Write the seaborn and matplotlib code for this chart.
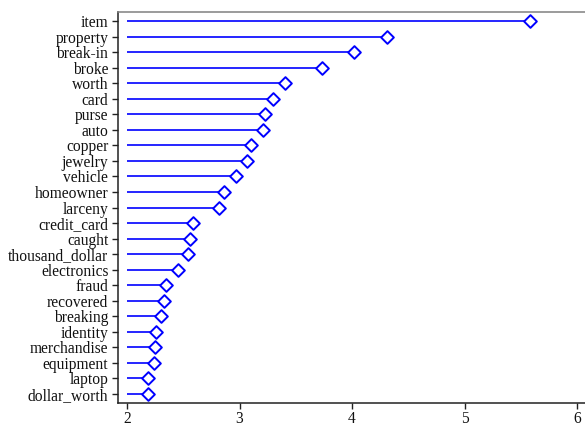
import numpy as np
import pandas as pd
import matplotlib
matplotlib.use("Agg")
import matplotlib.pyplot as plt
import seaborn as sns

terms = ["item", "property", "break-in", "broke", "worth", "card", "purse", "auto",
         "copper", "jewelry", "vehicle", "homeowner", "larceny", "credit_card", "caught",
         "thousand_dollar", "electronics", "fraud", "recovered", "breaking", "identity",
         "merchandise", "equipment", "laptop", "dollar_worth"]
scores = [5.58, 4.31, 4.02, 3.73, 3.40, 3.30, 3.23, 3.21, 3.10, 3.07, 2.97, 2.86, 2.82,
          2.59, 2.56, 2.54, 2.45, 2.35, 2.33, 2.30, 2.26, 2.25, 2.24, 2.19, 2.19]
baseline = 2.0

sns.set_style("ticks")
plt.rcParams["font.family"] = ["Liberation Serif", "DejaVu Serif"]

df = pd.DataFrame({"term": terms, "score": scores})
df["pos"] = np.arange(len(df))

fig = plt.figure(figsize=(5.85, 4.25), dpi=100)
ax = fig.add_axes([118 / 585, 22 / 425, 467 / 585, 391 / 425])

# stems
ax.hlines(df["pos"], baseline, df["score"], color="blue", linewidth=1.2, zorder=1)
# heads
sns.scatterplot(data=df, x="score", y="pos", marker="D", s=42, facecolor="white",
                edgecolor="blue", linewidth=1.4, zorder=2, ax=ax, legend=False)

ax.set_yticks(df["pos"])
ax.set_yticklabels(df["term"])
ax.set_ylim(len(df) - 1 + 0.6, -0.6)
ax.set_xlim(1.92, 6.07)
ax.set_xticks([2, 3, 4, 5, 6])
ax.set_xlabel("")
ax.set_ylabel("")
ax.tick_params(labelsize=11.2, length=4.5, width=1, direction="out", color="#222222",
               labelcolor="#111111", pad=2.5)
ax.tick_params(axis="x", pad=1.5)
for side in ["left", "bottom"]:
    ax.spines[side].set_color("#222222")
    ax.spines[side].set_linewidth(1.1)
ax.spines["top"].set_color("#808080")
ax.spines["top"].set_linewidth(1.1)
ax.spines["right"].set_visible(False)

fig.savefig("out.png", dpi=100)
